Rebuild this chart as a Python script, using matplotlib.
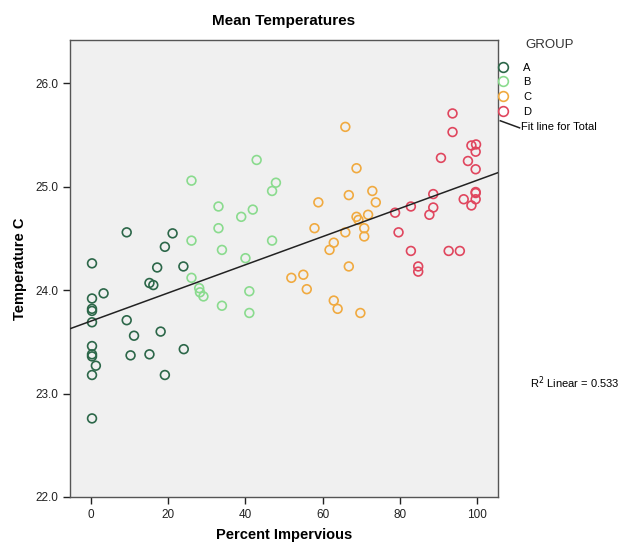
import numpy as np
import matplotlib.pyplot as plt
from matplotlib.lines import Line2D

plt.rcParams['font.family'] = ['Liberation Sans', 'DejaVu Sans']

# data
a_x = [9.2, 21.1, 19.1, 0.2, 17.1, 23.9, 15.1, 16.1, 3.2, 0.2, 0.2, 0.2, 0.2, 9.2,
       18.0, 11.1, 0.2, 0.2, 0.2, 1.2, 10.2, 15.1, 24.0, 0.2, 19.1, 0.2]
a_y = [24.56, 24.55, 24.42, 24.26, 24.22, 24.23, 24.07, 24.05, 23.97, 23.92, 23.82, 23.80,
       23.69, 23.71, 23.60, 23.56, 23.46, 23.38, 23.36, 23.27, 23.37, 23.38, 23.43, 23.18,
       23.18, 22.76]

b_x = [26.0, 26.0, 28.0, 28.2, 29.1, 42.9, 26.0, 47.9, 46.9, 33.0, 41.9, 38.9, 33.0,
       46.9, 33.9, 40.0, 41.0, 33.9, 41.0]
b_y = [24.48, 24.12, 24.02, 23.98, 23.94, 25.26, 25.06, 25.04, 24.96, 24.81, 24.78, 24.71,
       24.60, 24.48, 24.39, 24.31, 23.99, 23.85, 23.78]

c_x = [65.9, 68.8, 72.9, 66.8, 58.9, 73.8, 68.8, 71.8, 69.3, 70.8, 70.8, 65.9, 57.9,
       62.9, 61.8, 66.8, 51.9, 55.0, 55.9, 62.9, 63.9, 69.8]
c_y = [25.58, 25.18, 24.96, 24.92, 24.85, 24.85, 24.71, 24.73, 24.68, 24.60, 24.52, 24.56,
       24.60, 24.46, 24.39, 24.23, 24.12, 24.15, 24.01, 23.90, 23.82, 23.78]

d_x = [93.7, 93.7, 98.6, 99.8, 99.7, 90.7, 97.7, 99.7, 99.7, 99.7, 99.7, 98.6, 96.6,
       88.7, 88.7, 87.7, 82.9, 78.8, 79.7, 82.9, 92.7, 95.6, 84.8, 84.8]
d_y = [25.71, 25.53, 25.40, 25.41, 25.34, 25.28, 25.25, 25.17, 24.95, 24.94, 24.88, 24.82,
       24.88, 24.93, 24.80, 24.73, 24.81, 24.75, 24.56, 24.38, 24.38, 24.38, 24.23, 24.18]

groups = ['A', 'B', 'C', 'D']
colors = ['#2c6749', '#8adb8e', '#f0aa40', '#e0465e']
r2_text = 'R$^2$ Linear = 0.533'

fig = plt.figure(figsize=(6.23, 5.44), dpi=100)
ax = fig.add_axes([0.1124, 0.0864, 0.687, 0.840])
ax.set_facecolor('#f0f0f0')

series = [(a_x, a_y), (b_x, b_y), (c_x, c_y), (d_x, d_y)]
for (xs, ys), col in zip(series, colors):
    ax.scatter(xs, ys, s=40, facecolors='none', edgecolors=col, linewidths=1.2, zorder=3)

# fit line for all points
all_x = np.concatenate([s[0] for s in series])
all_y = np.concatenate([s[1] for s in series])
slope, icept = np.polyfit(all_x, all_y, 1)
xl = np.array([-5.5, 105.5])
ax.plot(xl, icept + slope * xl, color='#222222', lw=1.1, zorder=4)

ax.set_xlim(-5.5, 105.5)
ax.set_ylim(22.0, 26.42)
ax.set_xticks([0, 20, 40, 60, 80, 100])
ax.set_yticks([22, 23, 24, 25, 26])
ax.set_yticklabels(['22.0', '23.0', '24.0', '25.0', '26.0'])
ax.tick_params(direction='out', length=5, width=1, labelsize=8.5, colors='#222222')
for sp in ax.spines.values():
    sp.set_color('#555555')
    sp.set_linewidth(1.0)

ax.set_title('Mean Temperatures', fontsize=11, fontweight='bold', pad=11)
ax.set_xlabel('Percent Impervious', fontsize=10.5, fontweight='bold', labelpad=5)
ax.set_ylabel('Temperature C', fontsize=10.5, fontweight='bold', labelpad=6)

# legend
fig.text(0.843, 0.917, 'GROUP', fontsize=9.5, va='center', ha='left', color='#333333')
handles = [Line2D([], [], ls='none', marker='o', markersize=7, markerfacecolor='none',
                  markeredgecolor=c, markeredgewidth=1.2) for c in colors]
fig.legend(handles, groups, loc='upper left', bbox_to_anchor=(0.798, 0.885),
           frameon=False, fontsize=8, handlelength=1.0, handletextpad=1.35,
           labelspacing=0.42, borderpad=0, borderaxespad=0)
fig.add_artist(Line2D([0.803, 0.834], [0.778, 0.765], color='#222222', lw=1.1,
                      transform=fig.transFigure))
fig.text(0.836, 0.767, 'Fit line for Total', fontsize=8, va='center', ha='left')

fig.text(0.85, 0.296, r2_text, fontsize=8, va='center', ha='left')

fig.savefig('out.png', dpi=100)
